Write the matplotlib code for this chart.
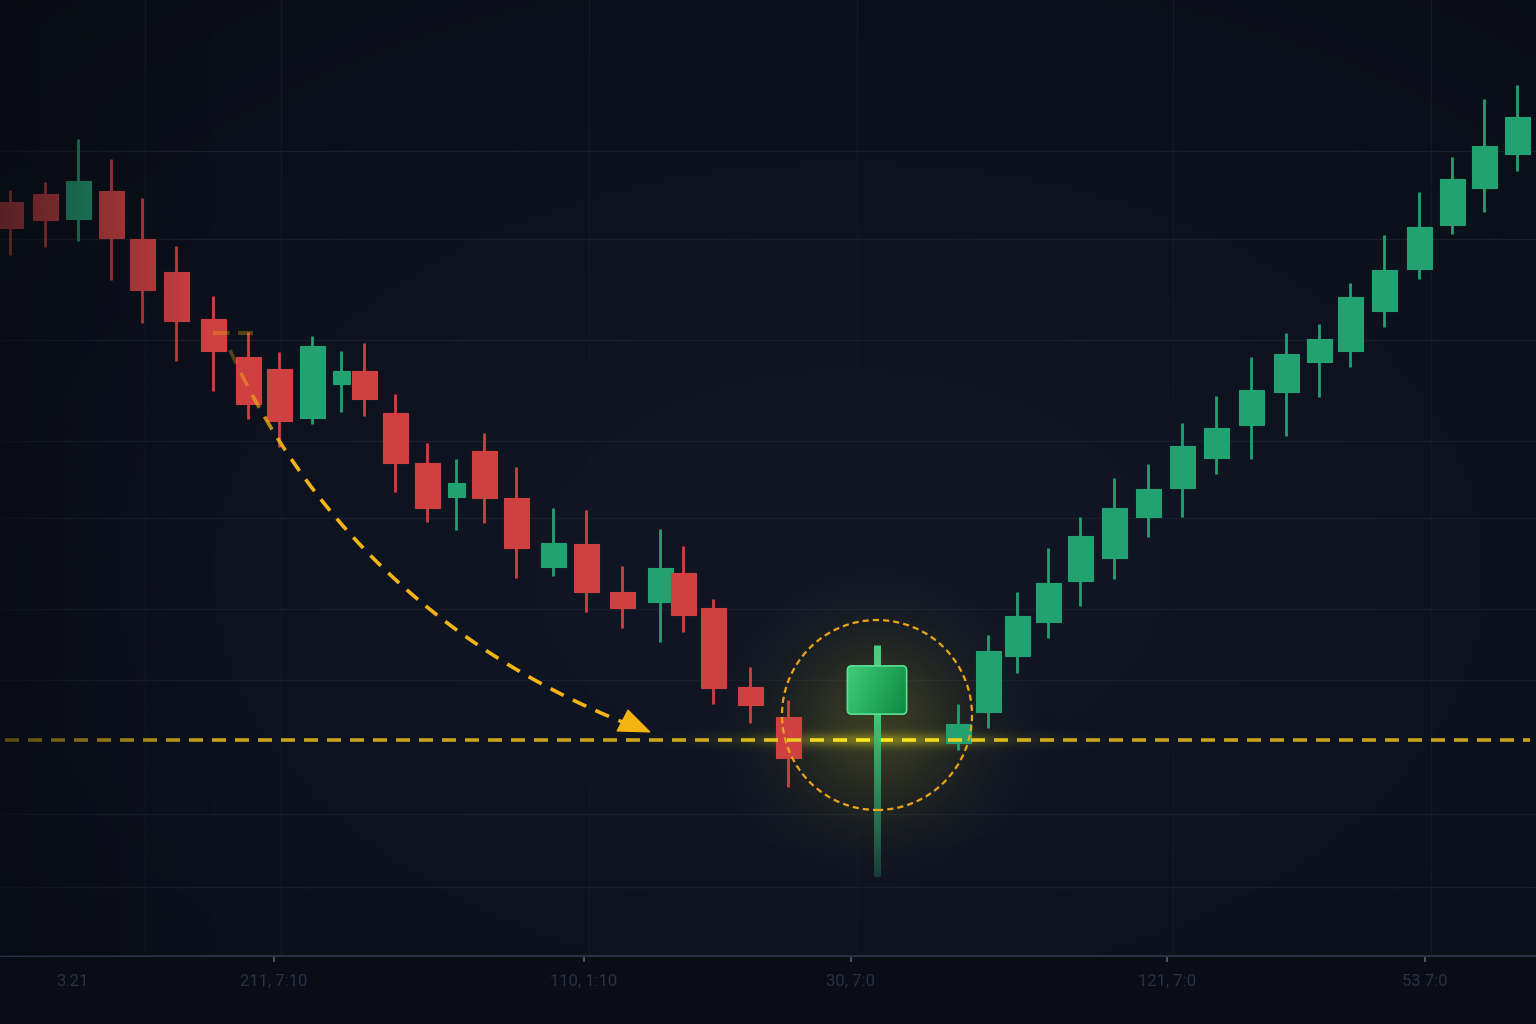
import numpy as np
import matplotlib.pyplot as plt
from matplotlib.patches import Circle, Polygon, FancyBboxPatch
from matplotlib.collections import LineCollection
from matplotlib.colors import to_rgb

# candle slots (x) and OHLC prices
t = [10, 45, 78, 111, 142, 176, 213, 248, 279, 312, 341, 364, 395, 427, 456,
     484, 516, 553, 586, 622, 660, 683, 713, 750, 788, 877, 958, 988, 1017,
     1048, 1080, 1114, 1148, 1182, 1216, 1251, 1286, 1319, 1350, 1384, 1419,
     1452, 1484, 1517]
opens = [822, 830, 805, 833, 785, 752, 705, 667, 655, 606, 640, 653, 611, 561,
         527, 573, 526, 457, 480, 432, 422, 451, 416, 337, 307, 310, 281, 312,
         368, 402, 443, 466, 507, 536, 566, 599, 632, 662, 673, 713, 755, 799,
         836, 870]
highs = [834, 842, 885, 865, 826, 778, 728, 692, 672, 688, 673, 681, 630, 581,
         565, 591, 557, 516, 514, 458, 495, 478, 425, 357, 324, 379, 320, 389,
         432, 476, 507, 546, 560, 601, 628, 667, 691, 700, 741, 789, 832, 867,
         925, 939]
lows = [769, 777, 783, 744, 701, 663, 633, 605, 577, 600, 612, 608, 532, 502,
        494, 501, 446, 448, 412, 396, 382, 392, 320, 301, 237, 147, 274, 296,
        351, 386, 418, 445, 487, 507, 550, 565, 588, 627, 657, 697, 745, 790,
        812, 853]
closes = [796, 804, 843, 786, 734, 703, 673, 620, 603, 678, 653, 625, 561, 516,
          541, 526, 476, 481, 432, 416, 456, 409, 336, 319, 266, 358, 300, 373,
          408, 441, 488, 516, 535, 578, 596, 634, 670, 685, 727, 754, 797, 845,
          878, 907]
hammer_i = 25
support = 284

hgrid = [873, 785, 684, 583, 506, 415, 344, 210, 137]
vgrid = [145, 281, 589, 857, 1173, 1431]
tick_pos = [72, 274, 584, 851, 1167, 1425]
tick_labels = ["3.21", "211, 7:10", "110, 1:10", "30, 7:0", "121, 7:0", "53 7:0"]

UP = '#22a171'
DOWN = '#cf4141'

fig = plt.figure(figsize=(15.36, 10.24), dpi=100)
fig.patch.set_facecolor('#0a0d16')
ax = fig.add_axes([0, 68 / 1024, 1, 956 / 1024])
X0, X1, Y0, Y1 = 0, 1536, 68, 1024

# background gradient
xs = np.linspace(X0, X1, 400)
ys = np.linspace(Y0, Y1, 260)
XX, YY = np.meshgrid(xs, ys)
f = np.exp(-((XX - 850) / 1000) ** 2 - ((YY - 450) / 650) ** 2)
dark = np.array(to_rgb('#070a10'))
light = np.array(to_rgb('#111625'))
bg = dark + (light - dark) * f[..., None]
ax.imshow(bg, extent=[X0, X1, Y0, Y1], origin='lower', aspect='auto',
          zorder=0, interpolation='bicubic')

# glow around the hammer and along the support
gx = np.linspace(600, 1160, 300)
gy = np.linspace(120, 480, 200)
GX, GY = np.meshgrid(gx, gy)
a = 0.2 * np.exp(-((GX - 878) / 90) ** 2 - ((GY - 300) / 90) ** 2)
a += 0.32 * np.exp(-((GX - 878) / 130) ** 2 - ((GY - support) / 7) ** 2)
glow = np.zeros(GX.shape + (4,))
glow[..., :3] = to_rgb('#dcd620')
glow[..., 3] = np.clip(a, 0, 1)
ax.imshow(glow, extent=[600, 1160, 120, 480], origin='lower', aspect='auto',
          zorder=1, interpolation='bicubic')

# normal candles
for i in range(len(t)):
    if i == hammer_i:
        continue
    o, h, l, c = opens[i], highs[i], lows[i], closes[i]
    col = UP if c >= o else DOWN
    w = 17 if abs(c - o) < 15 else 25
    ax.vlines(t[i], l, h, color=col, lw=2.0, zorder=3)
    ax.bar(t[i], c - o, bottom=o, width=w, color=col, edgecolor=col,
           lw=0.8, zorder=4)

# support line, dashes brighter near the hammer
hx = t[hammer_i]
segs, cols = [], []
base = np.array(to_rgb('#c9a31d'))
hot = np.array(to_rgb('#ffe81e'))
for s in np.arange(5, 1530, 23):
    e = min(s + 14, 1530)
    g = np.exp(-((s + 7 - hx) / 120) ** 2)
    segs.append([(s, support), (e, support)])
    cols.append(tuple(base + (hot - base) * g) + (1.0,))
ax.add_collection(LineCollection(segs, colors=cols, linewidths=2.6,
                                 capstyle='butt', zorder=5))

# curved dashed arrow toward the support
P = np.array([[230, 674], [320, 476], [475, 361], [625, 301]], float)
u = np.linspace(0, 1, 2000)[:, None]
curve = ((1 - u) ** 3 * P[0] + 3 * (1 - u) ** 2 * u * P[1]
         + 3 * (1 - u) * u ** 2 * P[2] + u ** 3 * P[3])
cum = np.concatenate([[0], np.cumsum(np.hypot(*np.diff(curve, axis=0).T))])
arrow_rgb = to_rgb('#f4b412')
asegs, acols = [], []
for s in np.arange(0, cum[-1], 25):
    m = (cum >= s) & (cum <= s + 15)
    if m.sum() < 2:
        continue
    asegs.append(curve[m])
    acols.append(arrow_rgb + (float(np.clip(0.3 + s / 160, 0.3, 1)),))
ax.add_collection(LineCollection(asegs, colors=acols, linewidths=2.6,
                                 capstyle='butt', zorder=6))
ax.plot([213, 253], [691, 691], color='#f4b412', alpha=0.3, lw=3,
        ls=(0, (4, 2)), zorder=6)
ax.add_patch(Polygon([(650, 292), (617, 293), (628, 314)], closed=True,
                     fc='#f4b412', ec='#f4b412', lw=0.8, zorder=6))

# left vignette
vx = np.linspace(X0, X1, 400)
va = np.clip(0.6 * (1 - vx / 210), 0, 1)
vig = np.zeros((2, 400, 4))
vig[..., :3] = to_rgb('#080b12')
vig[..., 3] = va
ax.imshow(vig, extent=[X0, X1, Y0, Y1], origin='lower', aspect='auto',
          zorder=6.5, interpolation='bilinear')

# hammer candle
ho, hh, hl, hc = opens[hammer_i], highs[hammer_i], lows[hammer_i], closes[hammer_i]
bw = 59
ax.vlines(hx, hc, hh, color='#47cf7f', lw=5, zorder=7)
wy = np.linspace(hl, ho, 200)
wick = np.zeros((200, 2, 4))
k = ((wy - hl) / (ho - hl))[:, None]
wick[..., :3] = (np.array(to_rgb('#25805c')) * (1 - k[..., None])
                 + np.array(to_rgb('#3dcb78')) * k[..., None])
wick[..., 3] = (0.35 + 0.65 * k ** 0.7)
ax.imshow(wick, extent=[hx - 3.5, hx + 3.5, hl, ho], origin='lower',
          aspect='auto', zorder=7, interpolation='bilinear')
body = FancyBboxPatch((hx - bw / 2, ho), bw, hc - ho,
                      boxstyle='round,pad=0,rounding_size=4',
                      fc='#24b35f', ec='#52dc8c', lw=1.2, zorder=8)
ax.add_patch(body)
bx = np.linspace(0, 1, 60)
by = np.linspace(0, 1, 40)
BX, BY = np.meshgrid(bx, by)
mix = np.clip(0.75 * BX + 0.25 * (1 - BY), 0, 1)[..., None]
grad = (np.array(to_rgb('#40cc7c')) * (1 - mix)
        + np.array(to_rgb('#0b8a3d')) * mix)
im = ax.imshow(grad, extent=[hx - bw / 2, hx + bw / 2, ho, hc], origin='lower',
               aspect='auto', zorder=8.5, interpolation='bilinear')
im.set_clip_path(body)
ax.add_patch(FancyBboxPatch((hx - bw / 2, ho), bw, hc - ho,
                            boxstyle='round,pad=0,rounding_size=4',
                            fc='none', ec='#5ee196', lw=1.0, zorder=9))

ax.add_patch(Circle((hx, 309), 95, fill=False, ec='#e9a516', lw=1.6,
                    ls=(0, (2.8, 1.8)), zorder=9))

# axes, grid and ticks
ax.set_xlim(X0, X1)
ax.set_ylim(Y0, Y1)
ax.set_yticks(hgrid)
ax.set_xticks(vgrid, minor=True)
ax.set_xticks(tick_pos)
ax.set_xticklabels(tick_labels, fontfamily='Roboto')
ax.xaxis.get_major_ticks()[0].tick1line.set_visible(False)
ax.yaxis.grid(True, color='#181e2b', lw=1)
ax.xaxis.grid(True, which='minor', color='#131824', lw=1)
ax.set_axisbelow(True)
for side in ['top', 'left', 'right']:
    ax.spines[side].set_visible(False)
ax.spines['bottom'].set_color('#283041')
ax.spines['bottom'].set_linewidth(1.5)
ax.tick_params(axis='y', left=False, labelleft=False)
ax.tick_params(axis='x', which='major', length=4, width=1.5, color='#4a5264',
               labelcolor='#2b3243', labelsize=12, pad=9)
ax.tick_params(axis='x', which='minor', length=0)

fig.savefig('out.png', dpi=100, facecolor=fig.get_facecolor())
